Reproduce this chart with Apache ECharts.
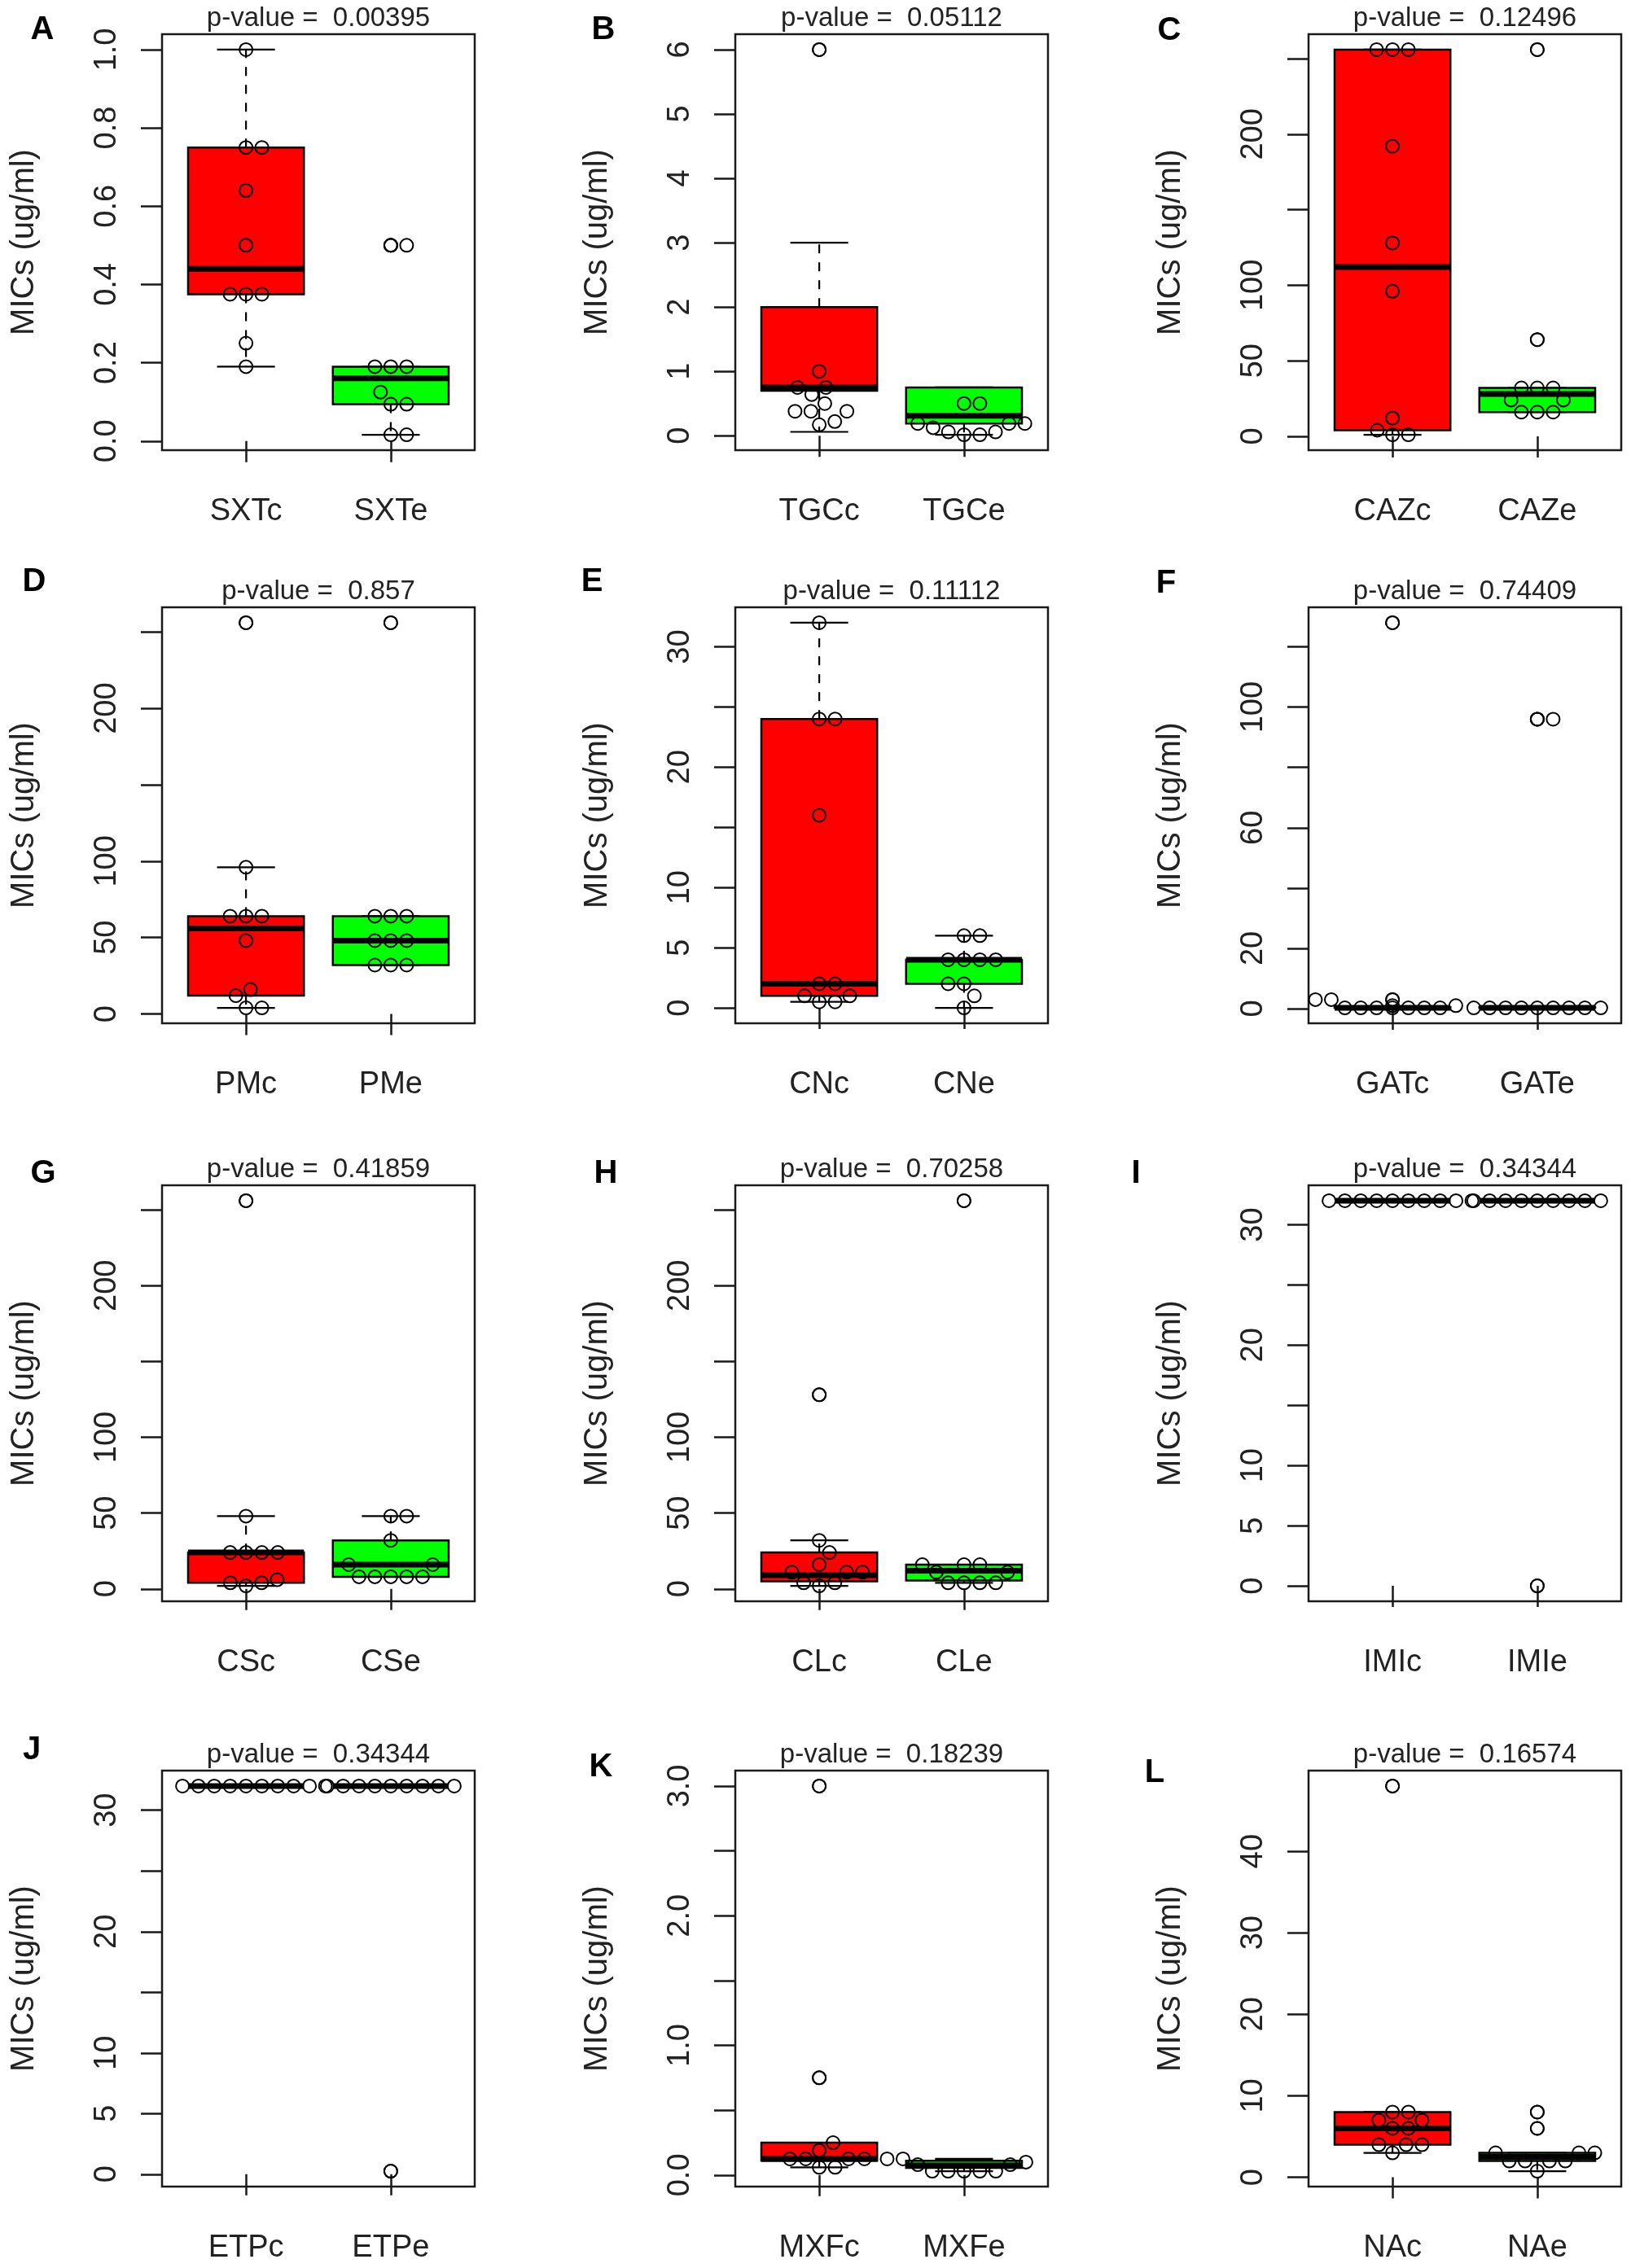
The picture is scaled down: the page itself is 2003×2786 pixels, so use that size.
<!DOCTYPE html>
<html lang="en">
<head>
<meta charset="utf-8">
<title>MICs boxplots</title>
<script src="https://cdn.jsdelivr.net/npm/echarts@6/dist/echarts.min.js"></script>
<style>
  html, body { margin: 0; padding: 0; background: #fff; }
  #chart { width: 2003px; height: 2786px; }
</style>
</head>
<body>
<div id="chart"></div>
<script>
// ---- data ----
var letters = ['A', 'B', 'C', 'D', 'E', 'F', 'G', 'H', 'I', 'J', 'K', 'L'];
var groupNames = [
  ['SXTc', 'SXTe'], ['TGCc', 'TGCe'], ['CAZc', 'CAZe'],
  ['PMc', 'PMe'], ['CNc', 'CNe'], ['GATc', 'GATe'],
  ['CSc', 'CSe'], ['CLc', 'CLe'], ['IMIc', 'IMIe'],
  ['ETPc', 'ETPe'], ['MXFc', 'MXFe'], ['NAc', 'NAe']
];
var pValues = ['0.00395', '0.05112', '0.12496', '0.857', '0.11112', '0.74409',
               '0.41859', '0.70258', '0.34344', '0.34344', '0.18239', '0.16574'];

// y ticks and the labels R kept ('' = tick without label)
var yTicks = [
  [0, 0.2, 0.4, 0.6, 0.8, 1],
  [0, 1, 2, 3, 4, 5, 6],
  [0, 50, 100, 150, 200, 250],
  [0, 50, 100, 150, 200, 250],
  [0, 5, 10, 15, 20, 25, 30],
  [0, 20, 40, 60, 80, 100, 120],
  [0, 50, 100, 150, 200, 250],
  [0, 50, 100, 150, 200, 250],
  [0, 5, 10, 15, 20, 25, 30],
  [0, 5, 10, 15, 20, 25, 30],
  [0, 0.5, 1, 1.5, 2, 2.5, 3],
  [0, 10, 20, 30, 40]
];
var yTickLabels = [
  ['0.0', '0.2', '0.4', '0.6', '0.8', '1.0'],
  ['0', '1', '2', '3', '4', '5', '6'],
  ['0', '50', '100', '', '200', ''],
  ['0', '50', '100', '', '200', ''],
  ['0', '5', '10', '', '20', '', '30'],
  ['0', '20', '', '60', '', '100', ''],
  ['0', '50', '100', '', '200', ''],
  ['0', '50', '100', '', '200', ''],
  ['0', '5', '10', '', '20', '', '30'],
  ['0', '5', '10', '', '20', '', '30'],
  ['0.0', '', '1.0', '', '2.0', '', '3.0'],
  ['0', '10', '20', '30', '40']
];

// box stats: [lower whisker, Q1, median, Q3, upper whisker]
var boxC = [
  [0.19, 0.375, 0.44, 0.75, 1],
  [0.06, 0.7, 0.75, 2, 3],
  [1, 4, 112, 256, 256],
  [4, 12, 56, 64, 96],
  [0.5, 1, 2, 24, 32],
  [0.25, 0.25, 0.25, 0.5, 0.5],
  [2, 4, 24, 24, 48],
  [2, 5, 9, 24, 32],
  [32, 32, 32, 32, 32],
  [32, 32, 32, 32, 32],
  [0.06, 0.11, 0.125, 0.25, 0.25],
  [3, 4, 6, 8, 8]
];
var boxE = [
  [0.016, 0.094, 0.16, 0.19, 0.19],
  [0.015, 0.19, 0.31, 0.75, 0.75],
  [16, 16, 28, 32, 32],
  [32, 32, 48, 64, 64],
  [0, 2, 4, 4, 6],
  [0.25, 0.25, 0.25, 0.5, 0.5],
  [8, 8, 16, 32, 48],
  [4, 5.5, 12, 16, 16],
  [32, 32, 32, 32, 32],
  [32, 32, 32, 32, 32],
  [0.03, 0.056, 0.075, 0.11, 0.125],
  [0.75, 2, 2.5, 3, 3]
];

// individual isolates (overlaid points)
var ptsC = [
  [1, 0.75, 0.75, 0.64, 0.5, 0.375, 0.375, 0.375, 0.25, 0.19],
  [6, 1, 0.75, 0.75, 0.64, 0.5, 0.38, 0.38, 0.38, 0.22, 0.17],
  [256, 256, 256, 192, 128, 96, 12, 4, 1, 1],
  [256, 96, 64, 64, 64, 48, 16, 12, 4, 4],
  [32, 24, 24, 16, 2, 2, 1, 1, 0.5, 0.5],
  [128, 3, 3, 1, 0.25, 0.25, 0.25, 0.25, 0.25, 0.25, 0.25],
  [256, 48, 24, 24, 24, 24, 6, 4, 4, 2],
  [128, 32, 24, 16, 11, 11, 11, 4, 4, 2],
  [32, 32, 32, 32, 32, 32, 32, 32, 32, 32],
  [32, 32, 32, 32, 32, 32, 32, 32, 32, 32],
  [3, 0.75, 0.25, 0.19, 0.125, 0.125, 0.125, 0.125, 0.06, 0.06],
  [48, 8, 8, 7, 7, 6, 6, 4, 4, 4, 3]
];
var ptsE = [
  [0.5, 0.5, 0.19, 0.19, 0.19, 0.125, 0.094, 0.094, 0.016, 0.016],
  [0.5, 0.5, 0.19, 0.19, 0.19, 0.125, 0.06, 0.06, 0.015, 0.015],
  [256, 64, 32, 32, 32, 24, 24, 16, 16, 16],
  [256, 64, 64, 64, 48, 48, 48, 32, 32, 32],
  [6, 6, 4, 4, 4, 4, 2, 2, 1, 0],
  [96, 96, 0.25, 0.25, 0.25, 0.25, 0.25, 0.25, 0.25, 0.25, 0.25],
  [48, 48, 32, 16, 16, 8, 8, 8, 8, 8],
  [256, 16, 16, 16, 11, 11, 4, 4, 4, 4],
  [32, 32, 32, 32, 32, 32, 32, 32, 32, 0],
  [32, 32, 32, 32, 32, 32, 32, 32, 32, 0.25],
  [0.125, 0.125, 0.1, 0.08, 0.08, 0.03, 0.03, 0.03, 0.03, 0.03],
  [8, 6, 3, 3, 3, 2, 2, 2, 2, 0.75]
];

// ---- layout ----
var colLeft = [199, 903, 1607];
var rowTop = [42, 746, 1456, 2175];
var frameW = 384, frameH = 511;
var xMin = 0.42, xMax = 2.58;          // R: 0.5..2.5 plus 4%
var letterPos = [[52, 37], [741, 37], [1436, 38], [42, 715], [727, 715], [1432, 717],
                 [53, 1442], [744, 1442], [1395, 1442], [39, 2150], [738, 2171], [1418, 2178]];
var FONT = '"Liberation Sans", Arial, sans-serif';
var fills = ['#ff0000', '#00ff00'];
var SPACING = 19.5;                    // beeswarm point spacing, px
var openCircle = { color: 'rgba(0,0,0,0)', borderColor: '#000', borderWidth: 2, opacity: 1 };

// beeswarm "swarm" placement, ascending priority (pixel space)
function swarm(vals, yScale, d) {
  var order = vals.map(function (v, i) { return i; });
  order.sort(function (a, b) { return (vals[a] - vals[b]) || (a - b); });
  var placed = [];
  var xs = [];
  order.forEach(function (idx) {
    var y = vals[idx] * yScale;
    var near = placed.filter(function (p) { return Math.abs(p.y - y) < d; });
    var cands = [0];
    near.forEach(function (p) { cands.push(p.x + Math.sqrt(d * d - (p.y - y) * (p.y - y))); });
    near.forEach(function (p) { cands.push(p.x - Math.sqrt(d * d - (p.y - y) * (p.y - y))); });
    var ok = cands.filter(function (cx) {
      return near.every(function (p) {
        return (cx - p.x) * (cx - p.x) + (p.y - y) * (p.y - y) >= d * d * 0.999;
      });
    });
    var best = ok.length ? ok[0] : 0;
    ok.forEach(function (cx) { if (Math.abs(cx) < Math.abs(best)) best = cx; });
    placed.push({ x: best, y: y });
    xs[idx] = best;
  });
  return xs;
}

function renderBox(params, api) {
  var x = api.value(0);
  var lo = api.coord([x, api.value(1)]);
  var q1 = api.coord([x, api.value(2)]);
  var med = api.coord([x, api.value(3)]);
  var q3 = api.coord([x, api.value(4)]);
  var hi = api.coord([x, api.value(5)]);
  var cx = lo[0];
  var bw = api.size([0.8, 0])[0];
  var sw = bw / 2;
  var ink = '#000';
  return {
    type: 'group',
    children: [
      { type: 'line', shape: { x1: cx, y1: q3[1], x2: cx, y2: hi[1] },
        style: { stroke: ink, lineWidth: 2.2, lineDash: [11, 11] } },
      { type: 'line', shape: { x1: cx, y1: q1[1], x2: cx, y2: lo[1] },
        style: { stroke: ink, lineWidth: 2.2, lineDash: [11, 11] } },
      { type: 'line', shape: { x1: cx - sw / 2, y1: hi[1], x2: cx + sw / 2, y2: hi[1] },
        style: { stroke: ink, lineWidth: 2.2 } },
      { type: 'line', shape: { x1: cx - sw / 2, y1: lo[1], x2: cx + sw / 2, y2: lo[1] },
        style: { stroke: ink, lineWidth: 2.2 } },
      { type: 'rect', shape: { x: cx - bw / 2, y: q3[1], width: bw, height: q1[1] - q3[1] },
        style: { fill: fills[x - 1], stroke: ink, lineWidth: 2.5 } },
      { type: 'line', shape: { x1: cx - bw / 2, y1: med[1], x2: cx + bw / 2, y2: med[1] },
        style: { stroke: ink, lineWidth: 7 } }
    ]
  };
}

var grids = [], xAxes = [], yAxes = [], series = [], graphics = [];

letters.forEach(function (letter, i) {
  var r = Math.floor(i / 3), c = i % 3;
  var left = colLeft[c], top = rowTop[r];
  var all = ptsC[i].concat(ptsE[i], boxC[i], boxE[i]);
  var lo = Math.min.apply(null, all), hi = Math.max.apply(null, all);
  var pad = (hi - lo) * 0.04;
  var yMin = lo - pad, yMax = hi + pad;
  var ticks = yTicks[i], tickLabels = yTickLabels[i];
  var labelVals = ticks.filter(function (t, k) { return tickLabels[k] !== ''; });
  var names = groupNames[i];

  grids.push({
    left: left, top: top, width: frameW, height: frameH,
    show: true, borderColor: '#1a1a1a', borderWidth: 2.5,
    backgroundColor: 'rgba(0,0,0,0)', containLabel: false, outerBoundsMode: 'none'
  });

  xAxes.push({
    type: 'value', gridIndex: i, min: xMin, max: xMax,
    splitLine: { show: false }, axisLine: { show: false },
    axisTick: { show: true, length: 26, customValues: [1, 2],
                lineStyle: { color: '#1a1a1a', width: 2.5 } },
    axisLabel: { show: true, customValues: [1, 2], margin: 57,
                 fontSize: 38, fontFamily: FONT, color: '#222',
                 formatter: function (v) { return names[Math.round(v) - 1]; } }
  });

  yAxes.push({
    type: 'value', gridIndex: i, min: yMin, max: yMax,
    splitLine: { show: false }, axisLine: { show: false },
    axisTick: { show: true, length: 26, customValues: ticks,
                lineStyle: { color: '#1a1a1a', width: 2.5 } },
    axisLabel: { show: true, customValues: labelVals, rotate: 90, margin: 48,
                 fontSize: 38, fontFamily: FONT, color: '#222',
                 formatter: function (v) { return tickLabels[ticks.indexOf(v)]; } },
    name: 'MICs (ug/ml)', nameLocation: 'middle', nameRotate: 90, nameGap: 149,
    nameTextStyle: { fontSize: 40, fontFamily: FONT, color: '#222' }
  });

  series.push({
    type: 'custom', xAxisIndex: i, yAxisIndex: i, silent: true, z: 2,
    renderItem: renderBox,
    encode: { x: 0, y: [1, 2, 3, 4, 5] },
    data: [[1].concat(boxC[i]), [2].concat(boxE[i])]
  });

  // boxplot outliers: values beyond the whiskers, drawn on the group centre
  var outliers = [];
  [[ptsC[i], boxC[i]], [ptsE[i], boxE[i]]].forEach(function (pair, g) {
    pair[0].forEach(function (v) {
      if (v < pair[1][0] || v > pair[1][4]) outliers.push([g + 1, v]);
    });
  });
  series.push({
    type: 'scatter', xAxisIndex: i, yAxisIndex: i, silent: true, z: 3,
    symbol: 'circle', symbolSize: 16, itemStyle: openCircle, data: outliers
  });

  // beeswarm points
  var yScale = frameH / (yMax - yMin), xScale = frameW / (xMax - xMin);
  var pts = [];
  [ptsC[i], ptsE[i]].forEach(function (vals, g) {
    var offs = swarm(vals, yScale, SPACING);
    vals.forEach(function (v, k) { pts.push([g + 1 + offs[k] / xScale, v]); });
  });
  series.push({
    type: 'scatter', xAxisIndex: i, yAxisIndex: i, silent: true, z: 3,
    symbol: 'circle', symbolSize: 16, itemStyle: openCircle, data: pts
  });

  graphics.push({
    type: 'text', x: left + frameW / 2, y: top - 19, z: 10, silent: true,
    style: { text: 'p-value =  ' + pValues[i], font: '33px ' + FONT, fill: '#222',
             align: 'center', verticalAlign: 'middle',
             textAlign: 'center', textVerticalAlign: 'middle' }
  });
  graphics.push({
    type: 'text', x: letterPos[i][0], y: letterPos[i][1], z: 10, silent: true,
    style: { text: letter, font: 'bold 40px ' + FONT, fill: '#000',
             align: 'center', verticalAlign: 'middle',
             textAlign: 'center', textVerticalAlign: 'middle' }
  });
});

var chart = echarts.init(document.getElementById('chart'));
chart.setOption({
  animation: false,
  backgroundColor: '#fff',
  grid: grids,
  xAxis: xAxes,
  yAxis: yAxes,
  series: series,
  graphic: { elements: graphics }
});
</script>
</body>
</html>
